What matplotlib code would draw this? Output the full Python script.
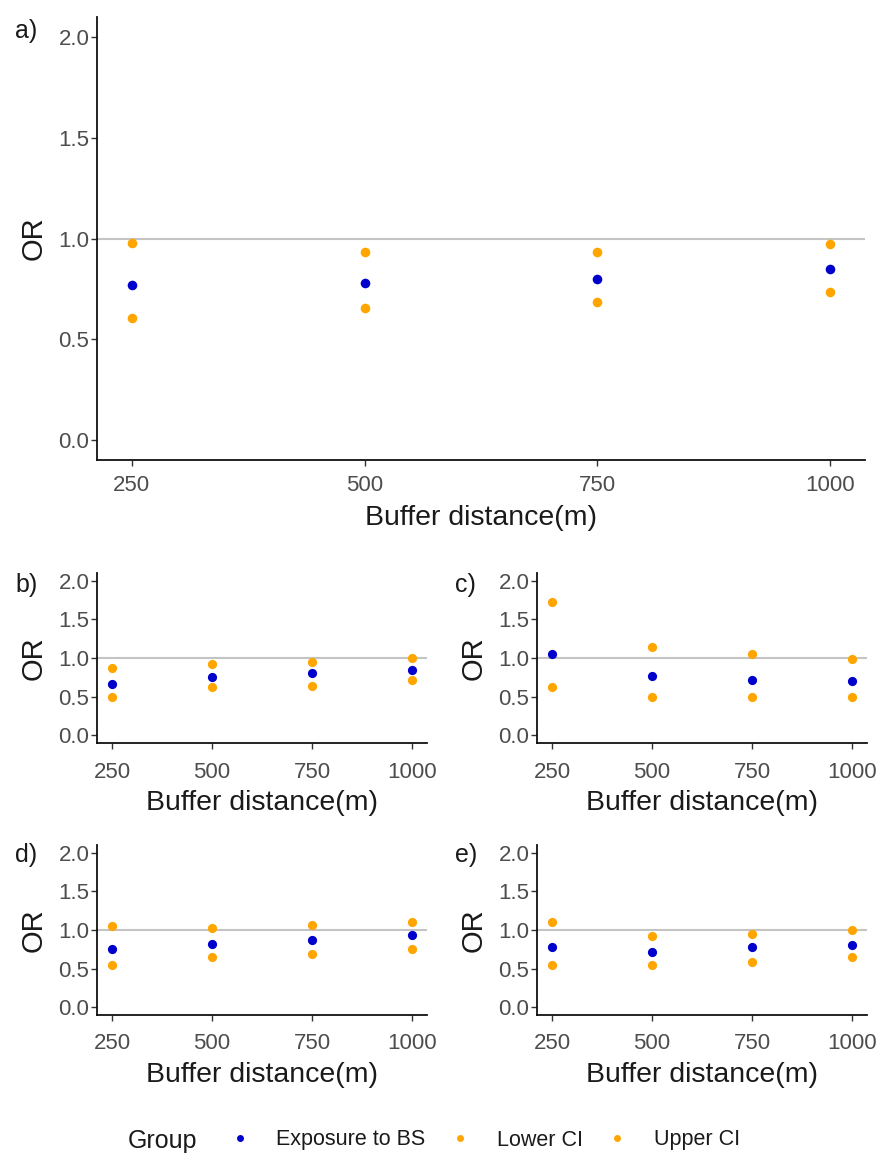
import matplotlib
matplotlib.use("Agg")
import matplotlib.pyplot as plt
from matplotlib.lines import Line2D

plt.rcParams["font.family"] = ["Liberation Sans", "DejaVu Sans"]

W, H = 880, 1155

# buffer distances (m)
buffers = [250, 500, 750, 1000]

# odds ratios per panel: exposure, lower CI, upper CI
or_a = [0.77, 0.78, 0.80, 0.85]
lo_a = [0.605, 0.653, 0.683, 0.732]
hi_a = [0.978, 0.933, 0.933, 0.973]

or_b = [0.67, 0.75, 0.80, 0.85]
lo_b = [0.50, 0.62, 0.64, 0.72]
hi_b = [0.87, 0.92, 0.95, 1.00]

or_c = [1.05, 0.77, 0.72, 0.70]
lo_c = [0.62, 0.50, 0.50, 0.50]
hi_c = [1.72, 1.14, 1.05, 0.99]

or_d = [0.75, 0.82, 0.87, 0.93]
lo_d = [0.55, 0.65, 0.69, 0.75]
hi_d = [1.05, 1.02, 1.07, 1.10]

or_e = [0.78, 0.72, 0.78, 0.80]
lo_e = [0.55, 0.55, 0.59, 0.65]
hi_e = [1.10, 0.92, 0.95, 1.00]

panel_labels = ["a)", "b)", "c)", "d)", "e)"]
group_labels = ["Exposure to BS", "Lower CI", "Upper CI"]

BLUE = "#0000CD"
ORANGE = "#FFA500"
TICK_GREY = "#4D4D4D"


def px_axes(fig, left, top, right, bottom):
    return fig.add_axes([left / W, 1 - bottom / H, (right - left) / W, (bottom - top) / H])


def draw_panel(ax, est, lo, hi, xpad, msize):
    ax.axhline(1.0, color="#C4C4C4", lw=1.5, zorder=1)
    ax.scatter(buffers, lo, s=msize, color=ORANGE, zorder=3, linewidths=0)
    ax.scatter(buffers, hi, s=msize, color=ORANGE, zorder=3, linewidths=0)
    ax.scatter(buffers, est, s=msize, color=BLUE, zorder=4, linewidths=0)
    ax.set_xlim(212.5, 1037.5)
    ax.set_ylim(-0.1, 2.1)
    ax.set_xticks(buffers)
    ax.set_yticks([0.0, 0.5, 1.0, 1.5, 2.0])
    ax.set_yticklabels(["0.0", "0.5", "1.0", "1.5", "2.0"])
    for s in ("top", "right"):
        ax.spines[s].set_visible(False)
    for s in ("left", "bottom"):
        ax.spines[s].set_linewidth(1.3)
        ax.spines[s].set_color("#111111")
    ax.tick_params(axis="both", labelsize=16, labelcolor=TICK_GREY,
                   color="#333333", length=4, width=1.0)
    ax.tick_params(axis="x", pad=xpad)
    ax.tick_params(axis="y", pad=1.5)
    ax.set_xlabel("Buffer distance(m)", fontsize=20.5, color="#1A1A1A")
    ax.set_ylabel("OR", fontsize=21, color="#1A1A1A")


def place_labels(ax, left, top, right, bottom, xlab_top, ylab_right):
    w = right - left
    h = bottom - top
    ax.xaxis.set_label_coords(0.5, (bottom - xlab_top) / h)
    ax.yaxis.set_label_coords((ylab_right - left) / w, 0.5)


fig = plt.figure(figsize=(W / 100, H / 100), dpi=100)

# (left, top, right, bottom) in pixels
box_a = (97, 17, 865, 460)
box_b = (97, 573, 427, 743)
box_c = (537, 573, 867, 743)
box_d = (97, 845, 427, 1015)
box_e = (537, 845, 867, 1015)

ax_a = px_axes(fig, *box_a)
draw_panel(ax_a, or_a, lo_a, hi_a, 7, 48)
place_labels(ax_a, *box_a, 505, 48)

ax_b = px_axes(fig, *box_b)
draw_panel(ax_b, or_b, lo_b, hi_b, 9.5, 44)
place_labels(ax_b, *box_b, 790, 48)

ax_c = px_axes(fig, *box_c)
draw_panel(ax_c, or_c, lo_c, hi_c, 9.5, 44)
place_labels(ax_c, *box_c, 790, 488)

ax_d = px_axes(fig, *box_d)
draw_panel(ax_d, or_d, lo_d, hi_d, 9, 44)
place_labels(ax_d, *box_d, 1062, 48)

ax_e = px_axes(fig, *box_e)
draw_panel(ax_e, or_e, lo_e, hi_e, 9, 44)
place_labels(ax_e, *box_e, 1062, 488)

# panel tags
tags = [(15, 31), (15, 585), (455, 585), (15, 855), (455, 855)]
for lab, (x, y) in zip(panel_labels, tags):
    fig.text(x / W, 1 - y / H, lab, fontsize=18, ha="left", va="center",
             color="#1A1A1A")

# legend along the bottom
fig.text(128 / W, 1 - 1141 / H, "Group", fontsize=18, ha="left", va="center",
         color="#1A1A1A")
handles = [
    Line2D([], [], ls="none", marker="o", ms=5, mec="none", color=BLUE),
    Line2D([], [], ls="none", marker="o", ms=5, mec="none", color=ORANGE),
    Line2D([], [], ls="none", marker="o", ms=5, mec="none", color=ORANGE),
]
leg = fig.legend(handles, group_labels, ncol=3,
                 loc="center left", bbox_to_anchor=(229 / W, 1 - 1140 / H),
                 frameon=False, fontsize=15.5, handlelength=1.0,
                 handletextpad=1.2, columnspacing=1.1, borderaxespad=0,
                 borderpad=0)
for t in leg.get_texts():
    t.set_color("#1A1A1A")

fig.savefig("out.png", dpi=100)
